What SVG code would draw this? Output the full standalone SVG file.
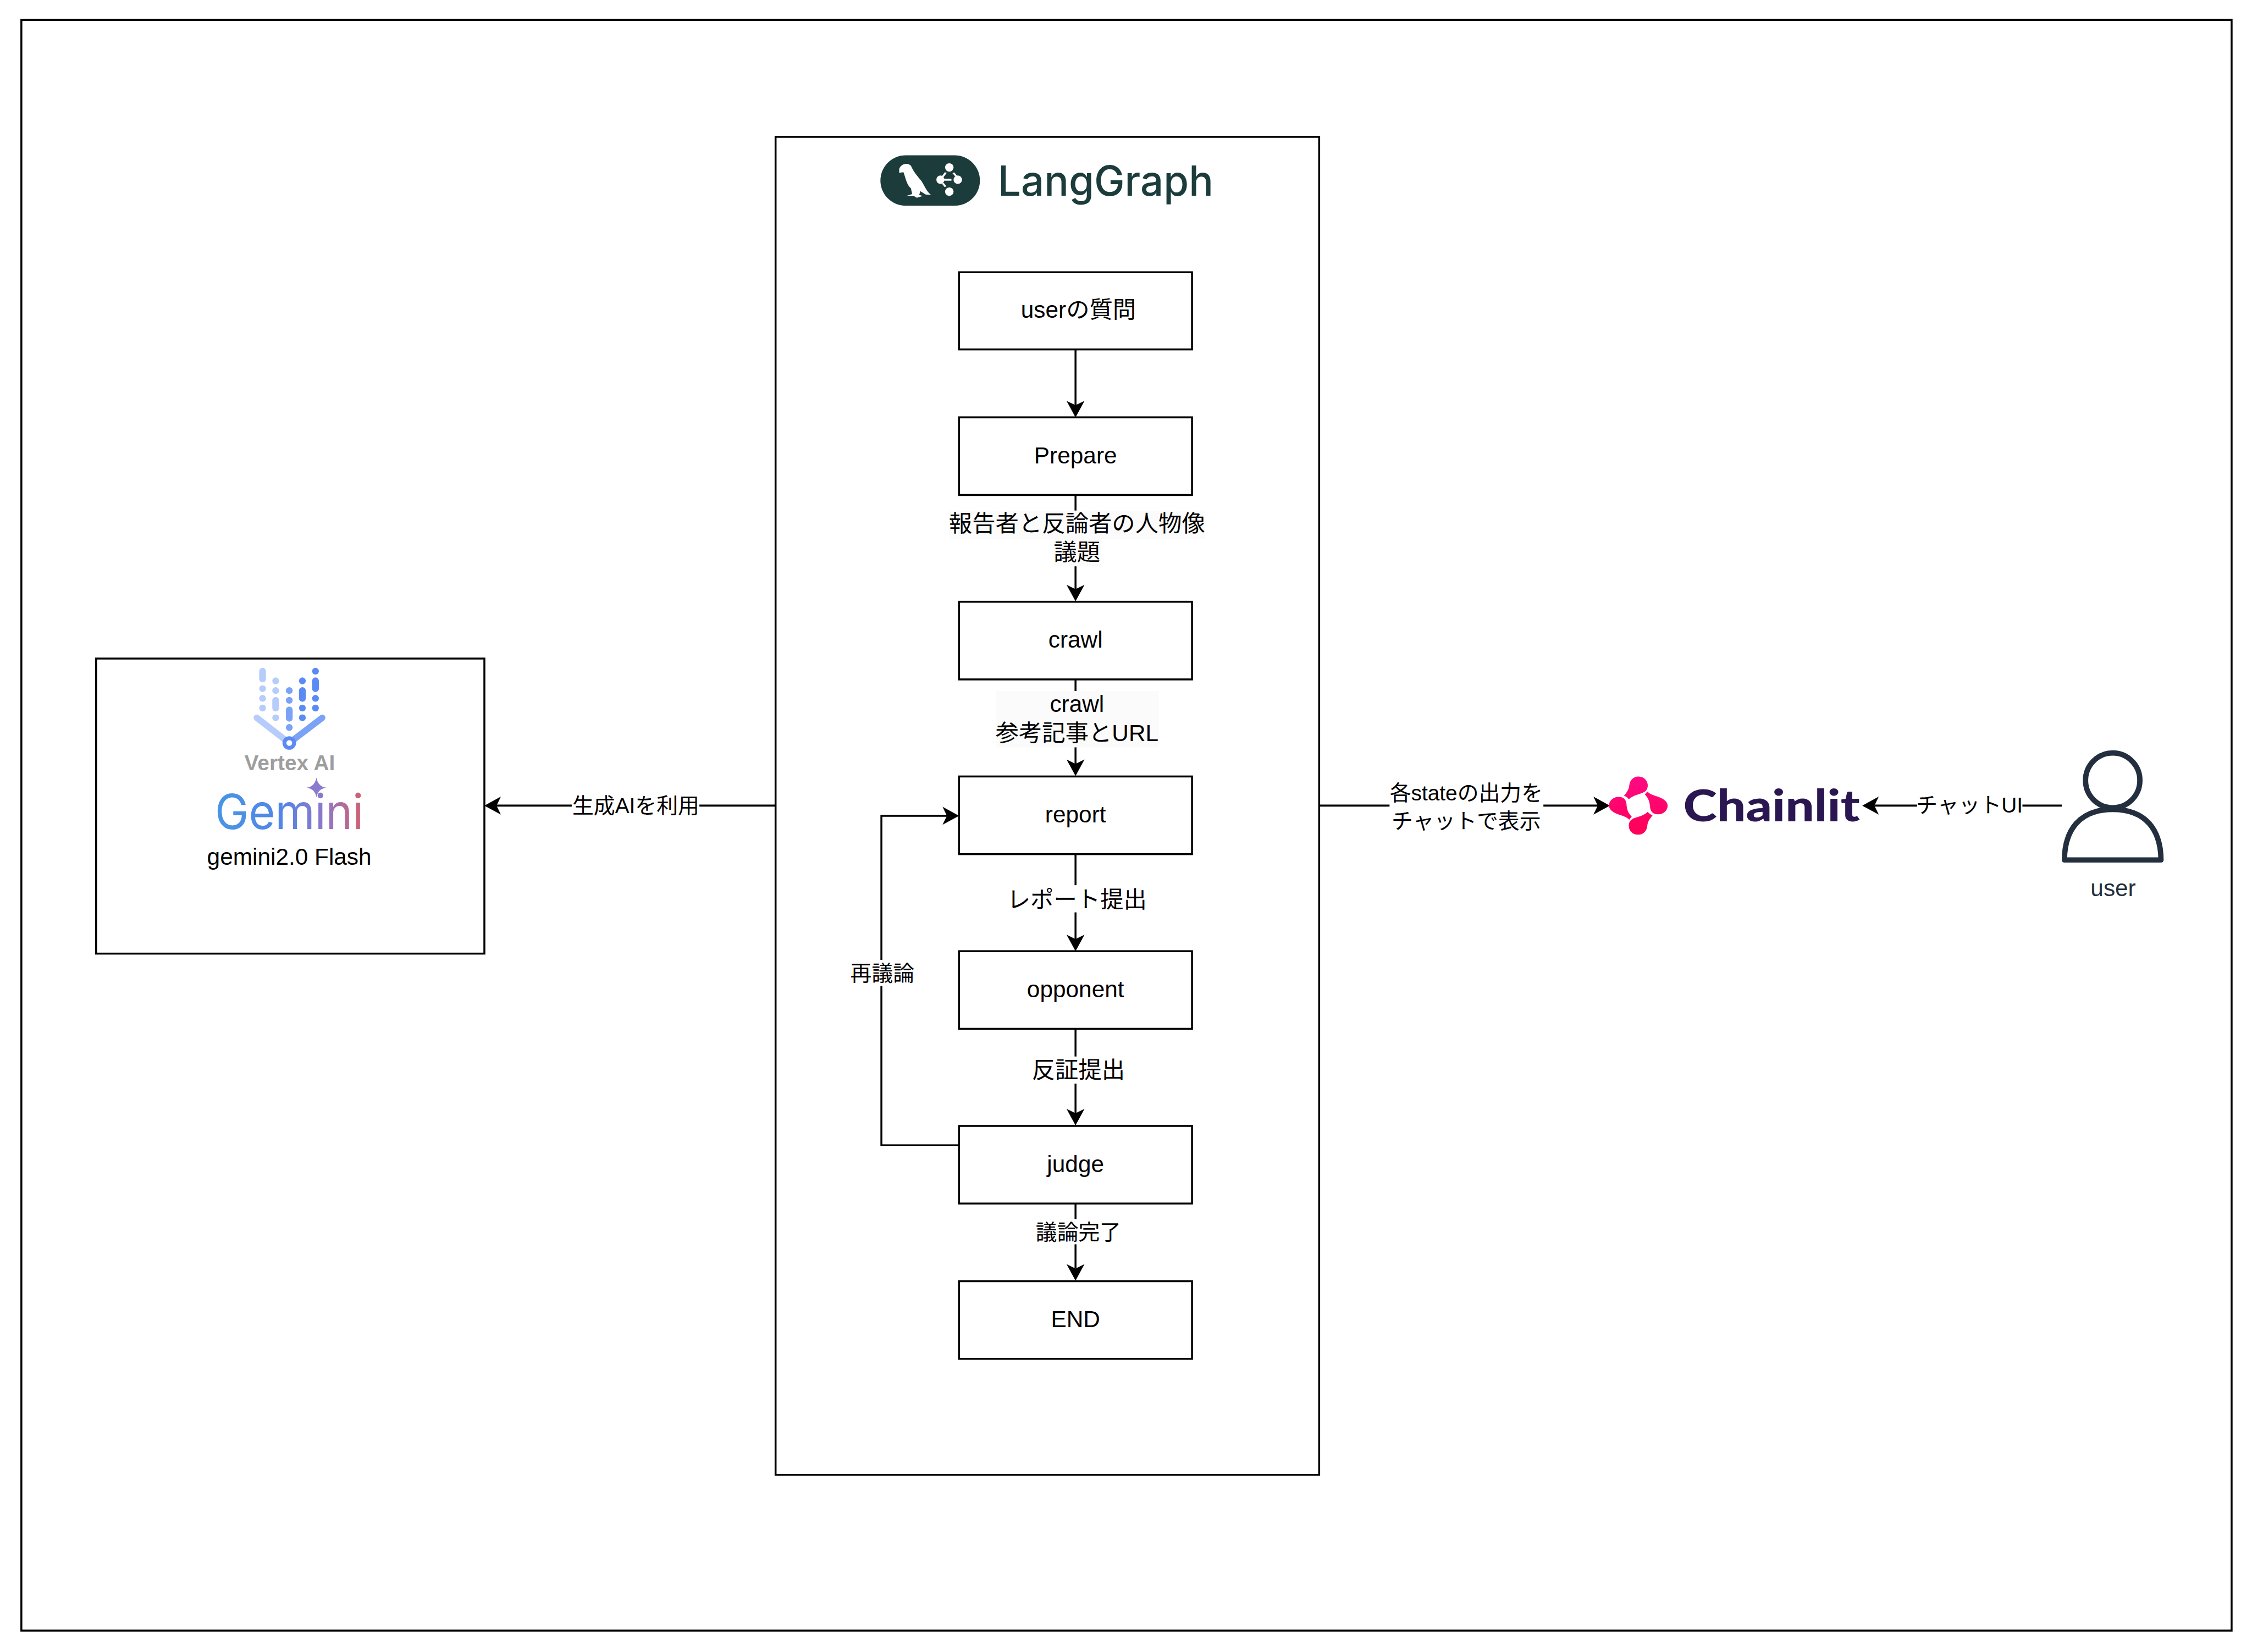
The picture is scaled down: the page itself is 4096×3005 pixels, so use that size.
<svg xmlns="http://www.w3.org/2000/svg" width="4096" height="3005" viewBox="0 0 4096 3005">
<style>
.b{fill:#fff;stroke:#000;stroke-width:4}
.e{fill:none;stroke:#000;stroke-width:4;marker-end:url(#arr)}
.w{fill:#fff}
.g{fill:#FBFBFB}
text{font-family:"Liberation Sans","Noto Sans CJK JP",sans-serif;fill:#000}
.t48{font-size:48px;text-anchor:middle}
.t44{font-size:44px;text-anchor:middle}
.l{fill:#B6CDFB}.m{fill:#7AA2F7}.d{fill:#5B8AF5}
</style>
<defs>
<marker id="arr" markerUnits="userSpaceOnUse" markerWidth="34" markerHeight="37" refX="9" refY="18.5" orient="auto" overflow="visible"><path d="M0 0L34 18.5L0 37L9 18.5Z" fill="#000"/></marker>
<linearGradient id="gem" gradientUnits="userSpaceOnUse" x1="445" y1="0" x2="747" y2="0"><stop offset="0" stop-color="#4796E3"/><stop offset=".45" stop-color="#5385E8"/><stop offset=".75" stop-color="#9177C7"/><stop offset="1" stop-color="#D1606F"/></linearGradient>
<linearGradient id="cl" gradientUnits="userSpaceOnUse" x1="0" y1="1600" x2="0" y2="1720"><stop offset="0" stop-color="#FF0A85"/><stop offset="1" stop-color="#FF0055"/></linearGradient>
</defs>
<rect width="4096" height="3005" fill="#fff"/>
<g transform="scale(0.88276)">
<rect id="frame" x="44" y="41" width="4554" height="3319" fill="#fff" stroke="#000" stroke-width="4"/>
<rect id="langgraph-frame" class="b" x="1598" y="282" width="1120" height="2757"/>

<g id="connectors">
<path class="e" d="M2216 720V835"/>
<path class="e" d="M2216 1020V1214"/>
<path class="e" d="M2216 1400V1574"/>
<path class="e" d="M2216 1760V1935"/>
<path class="e" d="M2216 2120V2294"/>
<path class="e" d="M2216 2480V2614"/>
<path class="e" d="M1976 2360H1816V1681H1951"/>
<path class="e" d="M1598 1660H1023"/>
<path class="e" d="M2718 1660H3292"/>
<path class="e" d="M4248 1660H3862"/>
<rect class="g" x="1956" y="1052" width="527" height="59"/>
<rect class="g" x="2172" y="1111" width="96" height="56"/>
<rect class="g" x="2053" y="1424" width="335" height="116"/>
<rect class="w" x="2074" y="1824" width="290" height="56"/>
<rect class="w" x="2124" y="2177" width="196" height="56"/>
<rect class="w" x="2134" y="2512" width="178" height="52"/>
<rect class="w" x="1750" y="1978" width="136" height="54"/>
<rect class="w" x="1178" y="1634" width="263" height="54"/>
<rect class="w" x="2863" y="1606" width="317" height="112"/>
<rect class="w" x="3950" y="1634" width="217" height="54"/>
<text class="t48" x="2219" y="1095">報告者と反論者の人物像</text>
<text class="t48" x="2219" y="1154">議題</text>
<text class="t48" x="2219" y="1467">crawl</text>
<text class="t48" x="2219" y="1527">参考記事とURL</text>
<text class="t48" x="2219" y="1870">レポート提出</text>
<text class="t48" x="2222" y="2222">反証提出</text>
<text class="t44" x="2222" y="2554">議論完了</text>
<text class="t44" x="1818" y="2021">再議論</text>
<text class="t44" x="1310" y="1675">生成AIを利用</text>
<text class="t44" x="3021" y="1649">各stateの出力を</text>
<text class="t44" x="3021" y="1707">チャットで表示</text>
<text class="t44" x="4058" y="1674">チャットUI</text>
</g>

<g id="node-user-question"><rect class="b" x="1976" y="561" width="480" height="159"/><text class="t48" x="2222" y="655">userの質問</text></g>
<g id="node-prepare"><rect class="b" x="1976" y="860" width="480" height="160"/><text class="t48" x="2216" y="955">Prepare</text></g>
<g id="node-crawl"><rect class="b" x="1976" y="1240" width="480" height="160"/><text class="t48" x="2216" y="1335">crawl</text></g>
<g id="node-report"><rect class="b" x="1976" y="1600" width="480" height="160"/><text class="t48" x="2216" y="1695">report</text></g>
<g id="node-opponent"><rect class="b" x="1976" y="1960" width="480" height="160"/><text class="t48" x="2216" y="2055">opponent</text></g>
<g id="node-judge"><rect class="b" x="1976" y="2320" width="480" height="160"/><text class="t48" x="2216" y="2415">judge</text></g>
<g id="node-end"><rect class="b" x="1976" y="2640" width="480" height="160"/><text class="t48" x="2216" y="2735">END</text></g>

<g id="node-langgraph-logo">
<rect x="1814" y="320" width="205" height="104" rx="52" fill="#1C3C3C"/>
<g transform="translate(1780 290) scale(.4847 .3333)" fill="#fff">
<path d="M150 175C155 145 185 130 200 155C210 190 225 215 245 250C260 285 265 310 285 335L262 332L240 312L235 335L250 342L225 353L212 342L180 342L205 330L200 295C180 270 178 230 168 195L150 198Z"/>
<ellipse cx="363" cy="165" rx="18" ry="26"/><ellipse cx="399" cy="241" rx="18" ry="26"/><ellipse cx="363" cy="315" rx="18" ry="26"/><ellipse cx="325" cy="241" rx="17" ry="26"/>
<rect x="325" y="235" width="47" height="12"/>
<path d="M348 197L335 222M380 198L392 218M335 262L347 284" stroke="#fff" stroke-width="9" fill="none"/>
</g>
<text x="2056" y="403" font-size="86" font-weight="500" textLength="444" lengthAdjust="spacingAndGlyphs" style="font-family:Inter,'Liberation Sans',sans-serif;fill:#1C3C3C">LangGraph</text>
</g>

<g id="node-gemini">
<rect class="b" x="198" y="1357" width="800" height="608"/>
<rect class="l" x="534" y="1376" width="14" height="30" rx="7"/>
<circle class="l" cx="541" cy="1419" r="7"/><circle class="l" cx="541" cy="1439" r="7"/><circle class="l" cx="541" cy="1459" r="7"/>
<circle class="l" cx="568" cy="1403" r="7"/><circle class="l" cx="568" cy="1423" r="7"/><rect class="l" x="561" y="1436" width="14" height="30" rx="7"/><circle class="l" cx="568" cy="1479" r="7"/>
<circle class="m" cx="596" cy="1423" r="7"/><circle class="m" cx="596" cy="1443" r="7"/><rect class="m" x="589" y="1456" width="14" height="31" rx="7"/><circle class="m" cx="596" cy="1499" r="7"/>
<circle class="d" cx="623" cy="1403" r="7"/><rect class="d" x="616" y="1416" width="14" height="30" rx="7"/><circle class="d" cx="623" cy="1459" r="7"/><circle class="d" cx="623" cy="1479" r="7"/>
<circle class="d" cx="650" cy="1383" r="7"/><rect class="d" x="643" y="1396" width="14" height="30" rx="7"/><circle class="d" cx="650" cy="1439" r="7"/><circle class="d" cx="650" cy="1459" r="7"/>
<path d="M529 1479L596 1531" stroke="#B6CDFB" stroke-width="13" stroke-linecap="round" fill="none"/>
<path d="M664 1479L596 1531" stroke="#7AA2F7" stroke-width="13" stroke-linecap="round" fill="none"/>
<circle cx="596" cy="1531" r="10" fill="#fff" stroke="#5B8AF5" stroke-width="8"/>
<text x="597" y="1587" font-size="44" font-weight="700" text-anchor="middle" style="fill:#9E9E9E">Vertex AI</text>
<path d="M652 1602C654 1614 660 1621 672 1623C660 1625 654 1632 652 1643C650 1632 644 1625 632 1623C644 1621 650 1614 652 1602Z" fill="#8A7BCF"/>
<text x="443" y="1708" font-size="100" textLength="306" lengthAdjust="spacingAndGlyphs" style="font-family:Inter,'Liberation Sans',sans-serif;fill:url(#gem)">Gemini</text>
<text class="t48" x="596" y="1782">gemini2.0 Flash</text>
</g>

<g id="node-chainlit">
<g fill="url(#cl)">
<path d="M3376 1600C3388 1600 3396 1610 3395 1620C3394 1630 3388 1633 3378 1636C3368 1639 3361 1642 3356 1647C3353 1643 3350 1641 3346 1640C3352 1632 3356 1628 3357 1618C3358 1608 3365 1600 3376 1600Z"/>
<path d="M3375 1720C3363 1720 3355 1710 3356 1700C3357 1690 3363 1687 3373 1684C3383 1681 3390 1678 3395 1673C3398 1677 3401 1679 3405 1680C3399 1688 3395 1692 3394 1702C3393 1712 3386 1720 3375 1720Z"/>
<path d="M3335 1642C3344 1642 3350 1647 3351 1655C3352 1668 3354 1674 3362 1683C3360 1685 3359 1686 3357 1689C3350 1682 3342 1681 3332 1677C3321 1673 3315 1666 3315 1660C3315 1650 3324 1642 3335 1642Z"/>
<path d="M3416 1678C3407 1678 3401 1673 3400 1665C3399 1652 3397 1646 3389 1637C3391 1635 3392 1634 3394 1631C3401 1638 3409 1639 3419 1643C3430 1647 3436 1654 3436 1660C3436 1670 3427 1678 3416 1678Z"/>
</g>
<text x="3468" y="1692" font-size="90" font-weight="900" textLength="364" lengthAdjust="spacingAndGlyphs" style="font-family:Lato,'Liberation Sans',sans-serif;fill:#2A1650">Chainlit</text>
</g>

<g id="node-user">
<ellipse cx="4353" cy="1608" rx="56" ry="56.5" fill="#fff" stroke="#232F3E" stroke-width="11"/>
<path d="M4253.500 1772C4254 1710 4285 1668 4353 1668C4421 1668 4452 1710 4452.500 1772Z" fill="#fff" stroke="#232F3E" stroke-width="11" stroke-linejoin="round"/>
<text class="t48" x="4354" y="1847" style="fill:#232F3E">user</text>
</g>
</g>
</svg>
